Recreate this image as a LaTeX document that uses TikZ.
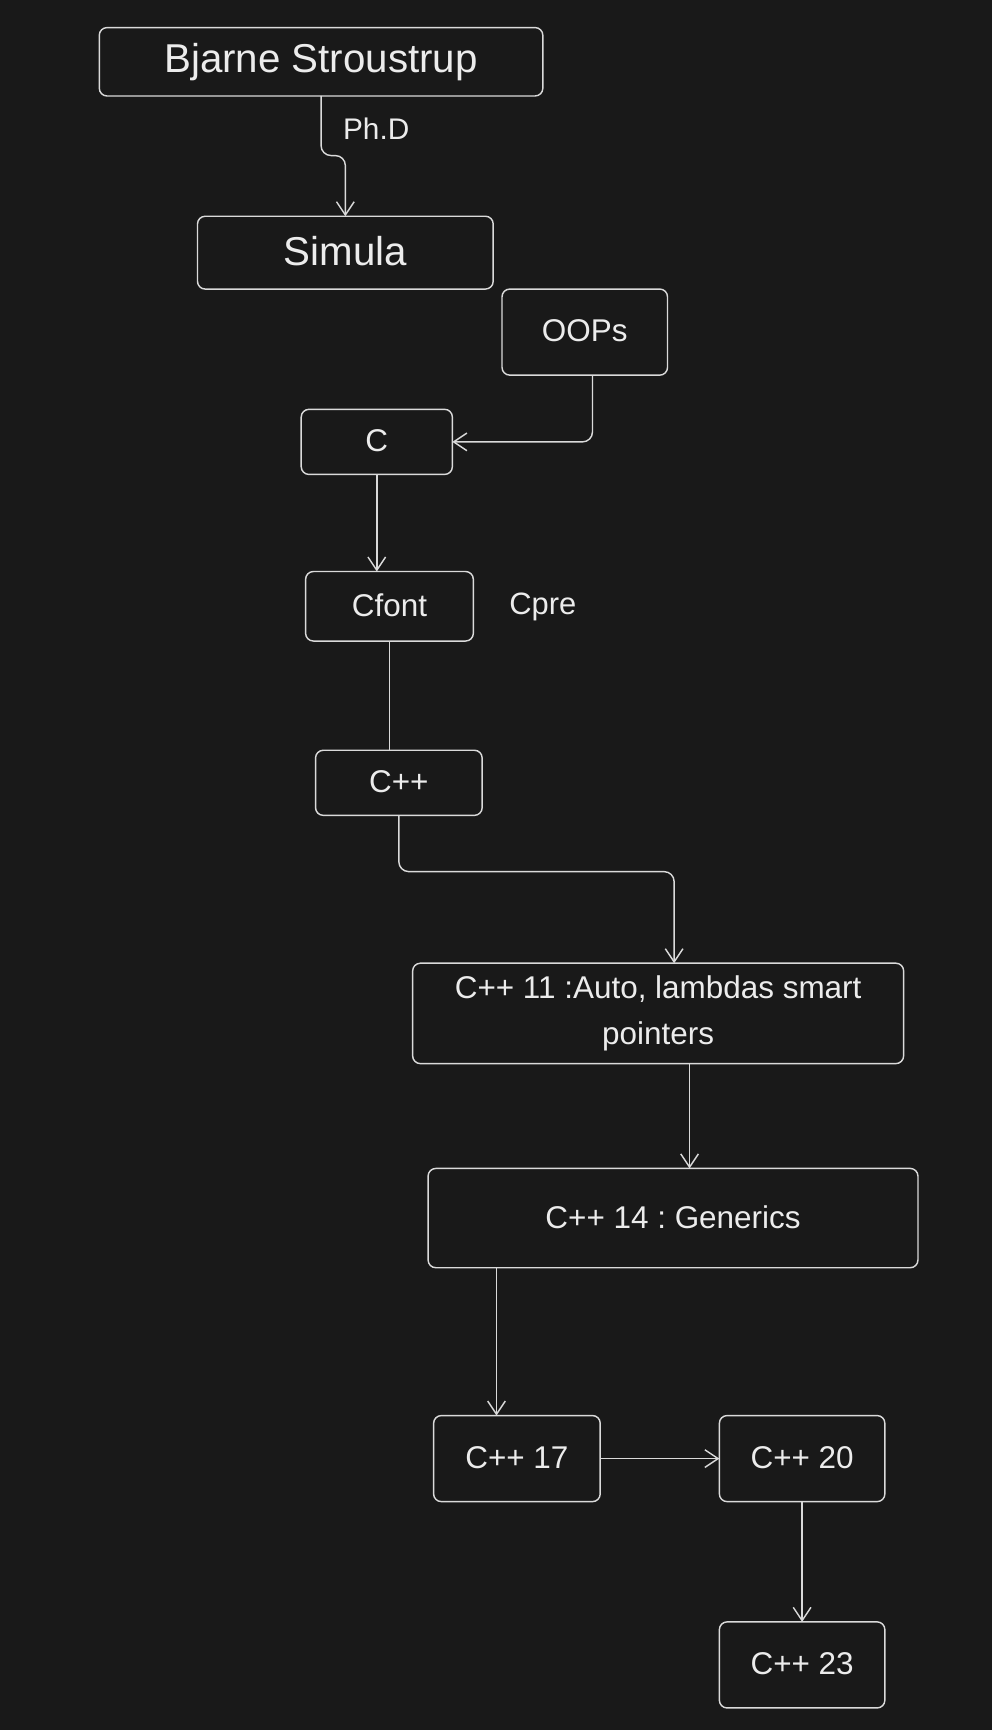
\documentclass[tikz,border=0pt]{standalone}
\usepackage{fontspec}
\setmainfont{Liberation Sans}
\usetikzlibrary{arrows.meta}
\definecolor{bgc}{RGB}{25,25,25}
\definecolor{strokec}{RGB}{218,218,218}
\definecolor{textc}{RGB}{236,236,236}
\newcommand\upt[2][2.5pt]{\raisebox{#1}{#2}}
\frenchspacing
\begin{document}
\begin{tikzpicture}[x=1pt,y=-1pt,
  box/.style={draw=strokec, line width=1.3pt, rounded corners=7pt, fill=bgc,
    inner sep=0pt, outer sep=0pt, text=textc, font=\fontsize{28.5}{41}\selectfont\frenchspacing, align=center},
  bigtext/.style={font=\fontsize{36.5}{44}\selectfont},
  lbl/.style={text=textc, inner sep=0pt, font=\fontsize{28}{34}\selectfont},
  conn/.style={draw=strokec, line width=1.3pt, rounded corners=9pt},
  arr/.style={conn, -{Straight Barb[length=12pt,width=16pt,line width=1.3pt]}}
]
\path[fill=bgc] (0,0) rectangle (899,1568);

\node[box, bigtext, minimum width=402pt, minimum height=62pt] (bjarne) at (291,56) {Bjarne Stroustrup};
\node[box, bigtext, minimum width=268pt, minimum height=66pt] (simula) at (313,229) {\upt[3.5pt]{Simula}};
\node[box, minimum width=150pt, minimum height=78pt] (oops) at (530,301) {\upt{OOPs}};
\node[box, minimum width=137pt, minimum height=59pt] (c) at (341.5,400.5) {\upt{C}};
\node[box, minimum width=152pt, minimum height=63pt] (cfont) at (353,549.5) {\upt{Cfont}};
\node[lbl] (cpre) at (492,550.5) {Cpre};
\node[box, minimum width=151pt, minimum height=59pt] (cpp) at (361.5,709.5) {\upt{C++}};
\node[box, minimum width=445pt, minimum height=91pt] (cpp11) at (596.5,918.5) {C++ 11 :Auto, lambdas smart\\pointers};
\node[box, minimum width=444pt, minimum height=90pt] (cpp14) at (610,1104) {\upt{C++ 14 : Generics}};
\node[box, minimum width=151pt, minimum height=78pt] (cpp17) at (468.5,1322) {\upt{C++ 17}};
\node[box, minimum width=150pt, minimum height=78pt] (cpp20) at (727,1322) {\upt{C++ 20}};
\node[box, minimum width=150pt, minimum height=78pt] (cpp23) at (727,1509) {\upt{C++ 23}};

\node[lbl, font=\fontsize{27}{32}\selectfont] (phd) at (341,117) {Ph.D};

\draw[arr] (bjarne.south) -- ++(0,54) -| (simula.north);
\draw[arr] ([xshift=7pt]oops.south) |- (c.east);
\draw[arr] (c.south) -- (c.south |- cfont.north);
\draw[conn] (cfont.south) -- (cfont.south |- cpp.north);
\draw[arr] (cpp.south) -- ++(0,51) -| ([xshift=14.5pt]cpp11.north);
\draw[arr] ([xshift=28.5pt]cpp11.south) -- ([xshift=28.5pt]cpp11.south |- cpp14.north);
\draw[arr] ([xshift=-18.5pt]cpp17.north |- cpp14.south) -- ([xshift=-18.5pt]cpp17.north);
\draw[arr] (cpp17.east) -- (cpp20.west);
\draw[arr] (cpp20.south) -- (cpp23.north);
\end{tikzpicture}
\end{document}
